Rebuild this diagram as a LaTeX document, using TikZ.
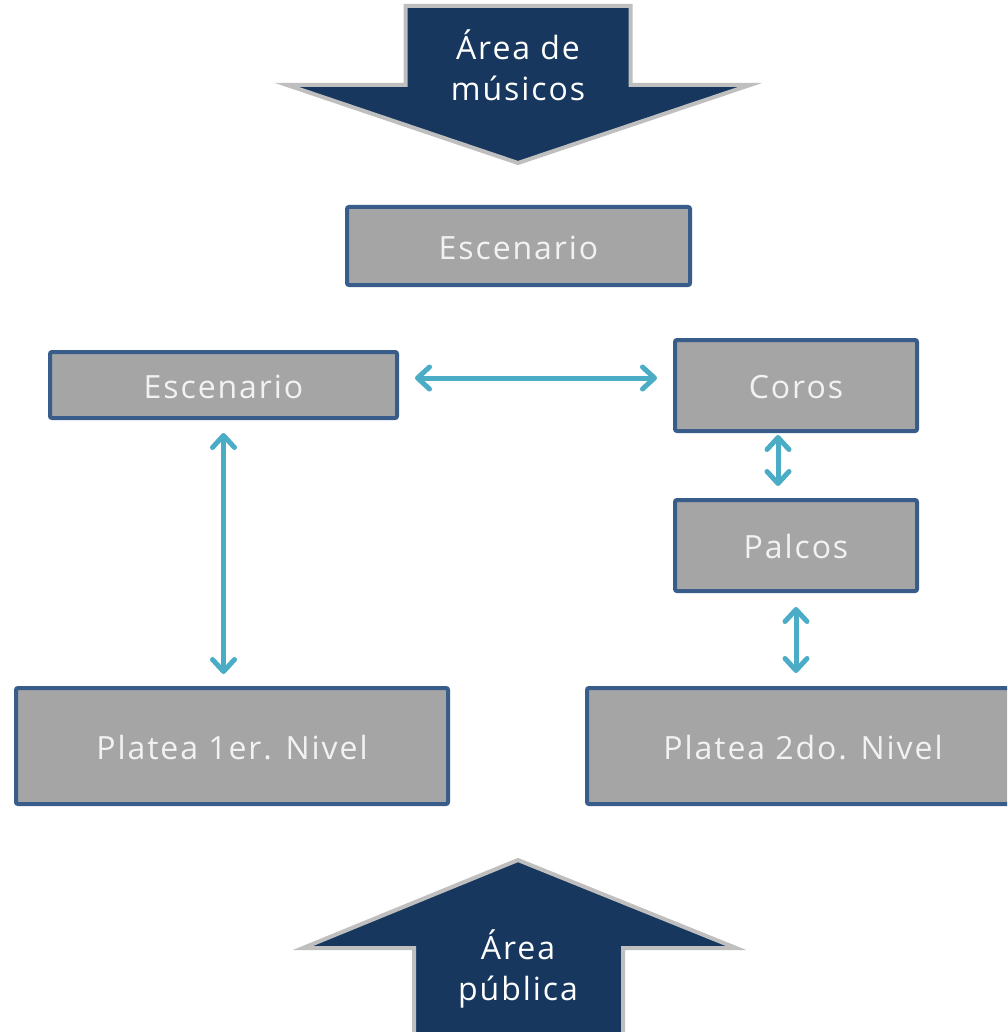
\documentclass[tikz,border=0pt]{standalone}
\usepackage{fontspec}
\setmainfont{Open Sans}[LetterSpace=6]
\usepackage{xcolor}
\usetikzlibrary{arrows.meta,positioning}
\definecolor{boxgray}{HTML}{A5A5A5}
\definecolor{boxline}{HTML}{385D8A}
\definecolor{navy}{HTML}{17375E}
\definecolor{rim}{HTML}{BFBFBF}
\definecolor{linkblue}{HTML}{4BACC6}
\tikzset{
	basic/.style = {draw=boxline, fill=boxgray, line width=2pt, rounded corners=1pt, inner sep=0pt,
		text=white!95!black, font=\fontsize{16}{20}\selectfont, text height=13pt, text depth=0pt},
	stage/.style = {basic, minimum width=171.5pt, minimum height=39pt},
	side/.style = {basic, minimum width=173.5pt, minimum height=33pt},
	upper/.style = {basic, minimum width=121pt, minimum height=45.5pt},
	floor/.style = {basic, minimum width=216pt, minimum height=58pt},
	bigarrow/.style = {draw=rim, fill=navy, line width=2pt, line join=miter},
	label/.style = {text=white, align=center, font=\fontsize{16}{20.5}\selectfont},
	link/.style = {draw=linkblue, line width=2.5pt, line cap=round,
		{Straight Barb[length=6pt, width=11pt, line cap=round, line join=round]}-{Straight Barb[length=6pt, width=11pt, line cap=round, line join=round]}}
}
\begin{document}
\begin{tikzpicture}[x=0.5pt, y=-0.5pt]
	\useasboundingbox (0,0) rectangle (1007,1032);
	\clip (0,0) rectangle (1007,1032);
	\fill[white] (0,0) rectangle (1007,1032);

	\draw[bigarrow] (405.5,6) -- (630.5,6) -- (630.5,85) -- (750,85) -- (518,163)
		-- (287,85) -- (405.5,85) -- cycle;
	\node[label] (musicos) at (518,65) {Área de\\músicos};

	\draw[bigarrow] (414,1045) -- (414,948) -- (303,948) -- (518,860) -- (736,948)
		-- (623,948) -- (623,1045);
	\node[label] (publico) at (518,969) {Área\\pública};

	\node[stage] (escenario) at (518.5,246) {Escenario};
	\node[side] (esc) at (223.5,385) {Escenario};
	\node[upper] (coros) at (796,385.5) {Coros};
	\node[upper] (palcos) at (796,545.5) {Palcos};
	\node[floor] (platea1) at (232,746) {Platea 1er. Nivel};
	\node[floor] (platea2) at (803,746) {Platea 2do. Nivel};

	\draw[link, shorten <=8pt, shorten >=8pt] ([yshift=3.5pt]esc.east) -- ([yshift=3.5pt]esc.east -| coros.west);
	\draw[link, shorten <=6.5pt, shorten >=6pt] (esc.south) -- (esc.south |- platea1.north);
	\draw[link, shorten <=1pt, shorten >=6pt] ([xshift=-9pt]coros.south) -- ([xshift=-9pt]palcos.north);
	\draw[link, shorten <=7pt, shorten >=6.5pt] (palcos.south) -- (palcos.south |- platea2.north);
\end{tikzpicture}
\end{document}
